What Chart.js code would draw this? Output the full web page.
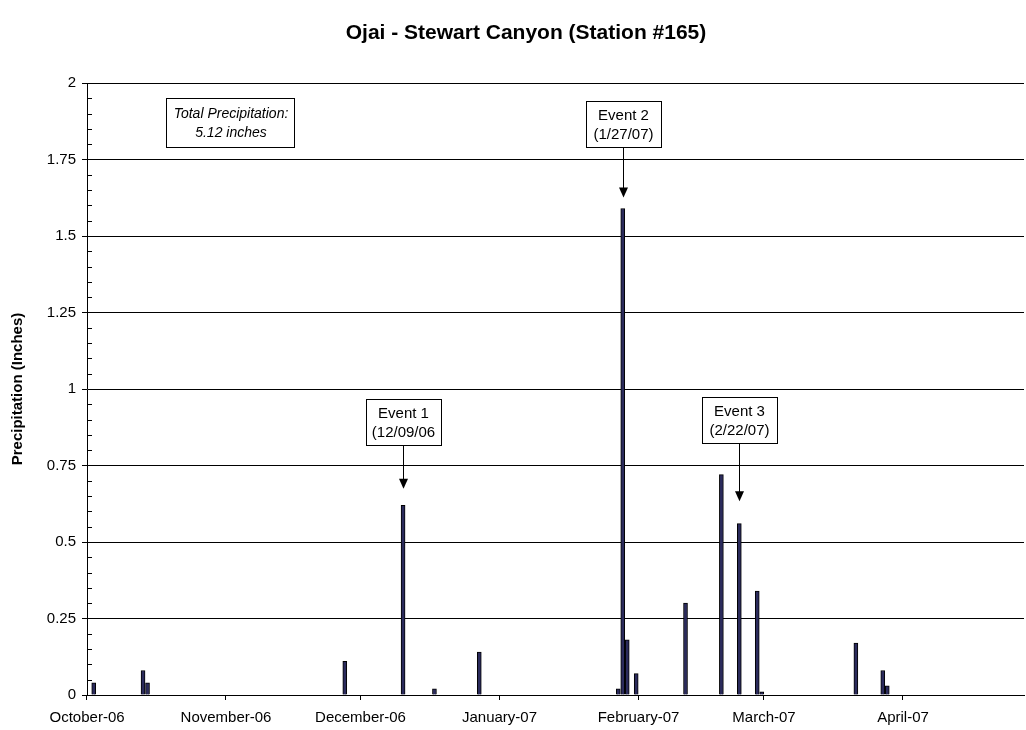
<!DOCTYPE html>
<html>
<head>
<meta charset="utf-8">
<script src="https://cdn.jsdelivr.net/npm/chart.js@4.4.0/dist/chart.umd.min.js"></script>
<style>
html, body { margin: 0; padding: 0; background: #fff; }
#wrap { width: 1026px; height: 730px; }
</style>
</head>
<body>
<div id="wrap"><canvas id="rain" width="1026" height="730"></canvas></div>
<script>
var CHART_TITLE = 'Ojai - Stewart Canyon (Station #165)';
var Y_TITLE = 'Precipitation (Inches)';
var START_DATE = '2006-10-01';
var DAY_COUNT = 209;   // Oct 1 2006 .. Apr 27 2007
var MONTH_NAMES = ['January', 'February', 'March', 'April', 'May', 'June', 'July', 'August', 'September', 'October', 'November', 'December'];

// daily totals (only the days with rain)
var rainDates = ['2006-10-02', '2006-10-13', '2006-10-14', '2006-11-27', '2006-12-10', '2006-12-17', '2006-12-27',
                 '2007-01-27', '2007-01-28', '2007-01-29', '2007-01-31', '2007-02-11', '2007-02-19', '2007-02-23',
                 '2007-02-27', '2007-02-28', '2007-03-21', '2007-03-27', '2007-03-28'];
var rainValues = [0.04, 0.08, 0.04, 0.11, 0.62, 0.02, 0.14,
                  0.02, 1.59, 0.18, 0.07, 0.30, 0.72, 0.56,
                  0.34, 0.01, 0.17, 0.08, 0.03];

var yTicks = [0, 0.25, 0.5, 0.75, 1, 1.25, 1.5, 1.75, 2];

var events = [
    {date: '2006-12-10', lines: ['Event 1', '(12/09/06'], boxTop: 0.968, tip: 0.674},
    {date: '2007-01-28', lines: ['Event 2', '(1/27/07)'], boxTop: 1.94, tip: 1.626},
    {date: '2007-02-23', lines: ['Event 3', '(2/22/07)'], boxTop: 0.974, tip: 0.633}
];

var FONT = '"Liberation Sans", Arial, sans-serif';

// one category per day
var dayLabels = [];
var dayValues = [];
var t0 = Date.parse(START_DATE + 'T00:00:00Z');
for (var i = 0; i < DAY_COUNT; i++) {
    var d = new Date(t0 + i * 86400000);
    dayLabels.push(d.toISOString().slice(0, 10));
    dayValues.push(0);
}
rainDates.forEach(function(ds, k) {
    var idx = dayLabels.indexOf(ds);
    if (idx >= 0) dayValues[idx] = rainValues[k];
});

var totalRain = rainValues.reduce(function(a, b) { return a + b; }, 0);

function monthLabel(ds) {
    var d = new Date(ds + 'T00:00:00Z');
    if (d.getUTCDate() !== 1) return '';
    return MONTH_NAMES[d.getUTCMonth()] + '-' + String(d.getUTCFullYear()).slice(2);
}

function isMonthStart(i) {
    return i < dayLabels.length && dayLabels[i].slice(8) === '01';
}

var decor = {
    id: 'decor',
    afterDraw: function(chart) {
        var ctx = chart.ctx;
        var xs = chart.scales.x, ys = chart.scales.y, area = chart.chartArea;
        ctx.save();
        ctx.fillStyle = '#000';
        ctx.strokeStyle = '#000';
        ctx.lineWidth = 1;

        // title
        ctx.font = 'bold 21px ' + FONT;
        ctx.textAlign = 'center';
        ctx.textBaseline = 'middle';
        ctx.fillText(CHART_TITLE, 526, 33);

        // y axis title
        ctx.save();
        ctx.translate(18, (area.top + area.bottom) / 2);
        ctx.rotate(-Math.PI / 2);
        ctx.font = 'bold 15px ' + FONT;
        ctx.fillText(Y_TITLE, 0, 0);
        ctx.restore();

        // minor ticks inside the y axis
        ctx.beginPath();
        for (var m = 1; m < 40; m++) {
            if (m % 5 === 0) continue;
            var py = Math.round(ys.getPixelForValue(m * 0.05)) + 0.5;
            ctx.moveTo(area.left, py);
            ctx.lineTo(area.left + 5, py);
        }
        ctx.stroke();

        // total box
        ctx.fillStyle = '#fff';
        ctx.fillRect(166, 98, 128, 49);
        ctx.strokeRect(166.5, 98.5, 128, 49);
        ctx.fillStyle = '#000';
        ctx.font = 'italic 14px ' + FONT;
        ctx.fillText('Total Precipitation:', 231, 114);
        ctx.fillText(totalRain.toFixed(2) + ' inches', 231, 133);

        // event call-outs
        ctx.font = '15px ' + FONT;
        events.forEach(function(ev) {
            var idx = dayLabels.indexOf(ev.date);
            var px = Math.round(xs.getPixelForValue(idx)) + 0.5;
            var top = Math.round(ys.getPixelForValue(ev.boxTop)) + 0.5;
            var tip = ys.getPixelForValue(ev.tip);
            var w = 75, h = 46;
            var left = Math.round(px - w / 2) + 0.5;
            ctx.fillStyle = '#fff';
            ctx.fillRect(left, top, w, h);
            ctx.strokeRect(left, top, w, h);
            ctx.save();
            ctx.beginPath();
            ctx.rect(left + 1, top + 1, w - 2, h - 2);
            ctx.clip();
            ctx.fillStyle = '#000';
            ctx.fillText(ev.lines[0], px, top + 14);
            ctx.fillText(ev.lines[1], px, top + 33);
            ctx.restore();
            ctx.fillStyle = '#000';
            ctx.beginPath();
            ctx.moveTo(px, top + h);
            ctx.lineTo(px, tip - 9);
            ctx.stroke();
            ctx.beginPath();
            ctx.moveTo(px - 4.5, tip - 10);
            ctx.lineTo(px + 4.5, tip - 10);
            ctx.lineTo(px, tip);
            ctx.closePath();
            ctx.fill();
        });
        ctx.restore();
    }
};

var rc = document.getElementById('rain').getContext('2d');
window.rainChart = new Chart(rc, {
    type: 'bar',
    data: {
        labels: dayLabels,
        datasets: [{
            label: 'Precipitation',
            data: dayValues,
            backgroundColor: '#2b2b5c',
            borderColor: '#000000',
            borderWidth: 1,
            barThickness: 4
        }]
    },
    options: {
        responsive: false,
        animation: false,
        layout: { padding: { top: 83, right: 2, left: 0, bottom: 0 } },
        plugins: {
            legend: { display: false },
            title: { display: false },
            tooltip: { enabled: false }
        },
        scales: {
            x: {
                type: 'category',
                offset: true,
                afterFit: function(scale) {
                    scale.height = 35;
                    scale.paddingLeft = 0;
                    scale.paddingRight = 0;
                },
                border: { display: true, color: '#000', width: 1 },
                grid: {
                    offset: true,
                    drawOnChartArea: false,
                    drawTicks: true,
                    tickLength: 5,
                    tickColor: function(c) { return isMonthStart(c.index) ? '#000' : 'rgba(0,0,0,0)'; }
                },
                ticks: {
                    autoSkip: false,
                    maxRotation: 0,
                    minRotation: 0,
                    padding: 9,
                    labelOffset: -2.2,
                    color: '#000',
                    font: { family: FONT, size: 15 },
                    callback: function(v, i) { return monthLabel(dayLabels[i]); }
                }
            },
            y: {
                min: 0,
                max: 2,
                afterFit: function(scale) { scale.width = 87; },
                afterBuildTicks: function(scale) {
                    scale.ticks = yTicks.map(function(v) { return { value: v }; });
                },
                border: { display: true, color: '#000', width: 1 },
                grid: {
                    color: '#000',
                    lineWidth: 1,
                    tickLength: 5,
                    tickColor: '#000'
                },
                ticks: {
                    padding: 6,
                    color: '#000',
                    font: { family: FONT, size: 15 },
                    callback: function(v) { return String(v); }
                }
            }
        }
    },
    plugins: [decor]
});
</script>
</body>
</html>
